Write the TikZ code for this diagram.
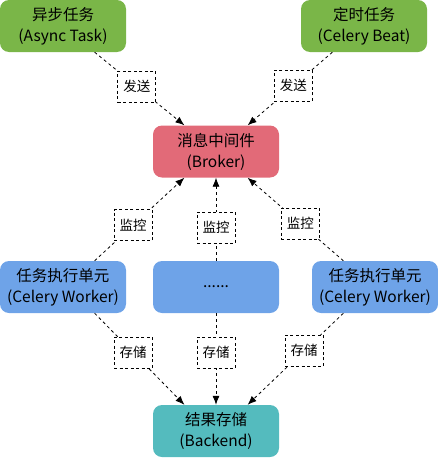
\documentclass[tikz,border=0pt]{standalone}
\usepackage{fontspec}
\setmainfont{Noto Sans CJK SC}
\usepackage{tikz}
\usetikzlibrary{arrows.meta,calc}
\definecolor{taskgreen}{RGB}{122,182,72}
\definecolor{brokerred}{RGB}{226,106,120}
\definecolor{workerblue}{RGB}{110,163,232}
\definecolor{backendteal}{RGB}{84,187,190}
\tikzset{box/.style={rectangle, rounded corners=9pt, minimum width=126pt, minimum height=52pt, inner sep=0pt, align=center, font=\fontsize{15.5}{21}\selectfont, execute at begin node=\setlength{\baselineskip}{21pt}}}
\tikzset{tag/.style={rectangle, draw=black, solid, dash pattern=on 3pt off 2.5pt, line width=0.8pt, fill=white, minimum width=38pt, minimum height=31pt, inner sep=0pt, font=\fontsize{13.5}{15}\selectfont}}
\tikzset{link/.style={dash pattern=on 3pt off 3pt, line width=0.8pt, -{Latex[length=9pt,width=7pt]}}}

\begin{document}
\begin{tikzpicture}[x=1pt,y=-1pt]
\useasboundingbox (0,0) rectangle (438,458);
% boxes
\node[box,fill=taskgreen] (async) at (63,26) {异步任务\\(Async Task)};
\node[box,fill=taskgreen] (beat) at (364,26) {定时任务\\(Celery Beat)};
\node[box,fill=brokerred] (broker) at (216,151.5) {消息中间件\\(Broker)};
\node[box,fill=workerblue] (workerA) at (63,287) {任务执行单元\\(Celery Worker)};
\node[box,fill=workerblue] (workerB) at (216,287) {......};
\node[box,fill=workerblue] (workerC) at (375,287) {任务执行单元\\(Celery Worker)};
\node[box,fill=backendteal] (backend) at (216,431) {结果存储\\(Backend)};
% send
\draw[link] ($(async.south)!0.5!(async.south east)$) -- node[tag,pos=0.47]{发送} ($(broker.north)!0.5!(broker.north west)$);
\draw[link] ($(beat.south)!0.5!(beat.south west)$) -- node[tag,pos=0.46]{发送} ($(broker.north)!0.5!(broker.north east)$);
% monitor
\draw[link] ($(workerA.north)!0.5!(workerA.north east)$) -- node[tag,pos=0.43]{监控} ($(broker.south)!0.5!(broker.south west)$);
\draw[link] (workerB.north) -- node[tag,pos=0.4]{监控} (broker.south);
\draw[link] ($(workerC.north)!0.5!(workerC.north west)$) -- node[tag,pos=0.45]{监控} ($(broker.south)!0.5!(broker.south east)$);
% store
\draw[link] ($(workerA.south)!0.5!(workerA.south east)$) -- node[tag,pos=0.43]{存储} ($(backend.north)!0.5!(backend.north west)$);
\draw[link] (workerB.south) -- node[tag,pos=0.43]{存储} (backend.north);
\draw[link] ($(workerC.south)!0.5!(workerC.south west)$) -- node[tag,pos=0.41]{存储} ($(backend.north)!0.5!(backend.north east)$);
\end{tikzpicture}
\end{document}
